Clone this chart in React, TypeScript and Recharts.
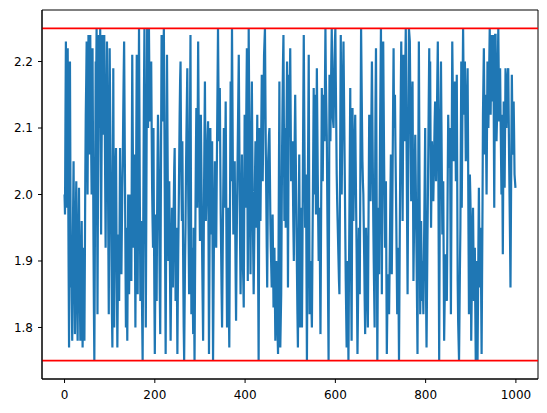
import { LineChart, Line, XAxis, YAxis, ReferenceLine, ReferenceArea } from "recharts";

// values, one per step (x = index), 100 per block
const block0 = [
  2.00, 1.97, 2.11, 2.23, 2.09, 1.98, 2.12, 2.22, 2.03, 1.89,
  1.77, 2.01, 2.20, 2.02, 1.86, 1.93, 1.84, 1.78, 1.91, 1.98,
  2.05, 1.93, 1.86, 1.79, 1.90, 1.97, 2.02, 1.91, 1.83, 1.78,
  1.89, 1.95, 2.01, 1.90, 1.84, 1.78, 1.85, 1.91, 1.96, 1.86,
  1.77, 1.85, 1.92, 1.84, 1.78, 1.90, 2.03, 2.12, 2.17, 2.23,
  2.11, 2.00, 2.13, 2.24, 2.15, 2.06, 2.17, 2.24, 2.13, 2.07,
  2.00, 2.10, 2.22, 2.08, 1.94, 1.83, 1.75, 1.89, 2.04, 2.20,
  2.16, 2.25, 2.03, 1.82, 1.99, 2.12, 2.24, 2.17, 2.10, 2.25,
  2.08, 1.94, 2.06, 2.15, 2.24, 2.17, 2.09, 2.16, 2.24, 2.13,
  2.02, 1.92, 2.04, 2.14, 2.23, 2.15, 2.05, 1.93, 1.82, 2.01,
];
const block1 = [
  2.22, 2.13, 2.06, 1.99, 1.90, 1.82, 1.77, 1.97, 2.19, 1.99,
  1.80, 1.90, 1.99, 2.04, 2.07, 1.95, 1.86, 1.77, 1.85, 1.94,
  1.89, 1.84, 1.96, 2.07, 1.98, 1.93, 1.88, 1.95, 2.01, 2.05,
  2.12, 2.18, 2.23, 2.12, 2.01, 1.90, 1.80, 1.95, 1.86, 1.78,
  1.89, 2.00, 1.93, 1.85, 1.92, 1.97, 2.00, 1.94, 1.87, 2.05,
  2.21, 2.10, 2.01, 1.92, 1.99, 2.06, 1.93, 1.80, 1.95, 2.09,
  2.21, 2.02, 1.85, 1.99, 2.13, 2.25, 2.11, 1.97, 1.84, 1.90,
  1.96, 1.88, 1.81, 1.75, 1.90, 2.04, 2.16, 2.25, 2.08, 1.94,
  1.80, 1.95, 2.11, 2.25, 2.17, 2.10, 2.18, 2.25, 2.17, 2.13,
  2.11, 2.15, 2.20, 2.10, 2.01, 1.96, 1.92, 2.10, 1.96, 1.85,
];
const block2 = [
  1.76, 1.86, 1.97, 1.90, 1.84, 1.96, 2.05, 2.12, 2.08, 2.02,
  1.93, 1.85, 1.79, 1.94, 2.10, 2.24, 2.18, 2.11, 2.16, 2.20,
  2.25, 2.14, 2.01, 1.88, 1.76, 1.91, 2.06, 2.21, 2.10, 1.99,
  1.90, 1.96, 2.02, 1.93, 1.85, 1.78, 1.85, 1.92, 1.98, 1.91,
  1.86, 1.93, 1.99, 2.04, 2.07, 1.95, 1.84, 1.90, 1.95, 1.86,
  1.76, 1.85, 1.92, 1.98, 2.05, 2.12, 2.17, 2.20, 2.09, 2.01,
  1.96, 2.08, 1.99, 1.88, 1.80, 1.75, 1.83, 1.90, 1.95, 2.03,
  2.09, 2.14, 2.19, 2.09, 2.00, 1.93, 1.85, 1.98, 2.12, 2.24,
  2.02, 1.82, 1.87, 1.92, 1.85, 1.79, 1.95, 1.84, 1.75, 1.86,
  1.97, 2.06, 2.13, 2.05, 1.98, 2.11, 2.23, 2.13, 2.05, 1.99,
];
const block3 = [
  1.93, 2.03, 2.12, 2.05, 1.98, 1.90, 1.84, 1.78, 1.88, 2.00,
  2.09, 2.17, 2.06, 1.96, 1.99, 2.02, 2.06, 2.09, 2.11, 1.93,
  1.76, 1.88, 2.00, 2.10, 2.02, 1.94, 2.01, 2.08, 1.91, 1.75,
  1.84, 1.93, 1.99, 2.05, 1.98, 1.94, 1.92, 2.01, 2.09, 2.17,
  2.25, 2.16, 2.08, 2.12, 2.16, 2.06, 1.97, 1.91, 1.85, 1.80,
  1.88, 1.96, 2.03, 2.10, 2.04, 1.98, 2.06, 2.14, 2.02, 1.90,
  1.80, 1.89, 1.98, 1.91, 1.83, 1.77, 1.90, 2.04, 2.17, 2.02,
  2.13, 2.25, 2.14, 2.03, 1.94, 1.98, 2.02, 2.05, 1.96, 1.88,
  1.81, 1.90, 1.97, 2.03, 2.09, 2.15, 2.21, 2.11, 2.00, 1.92,
  1.85, 1.92, 1.99, 2.06, 1.98, 1.90, 1.87, 1.83, 1.97, 2.12,
];
const block4 = [
  2.05, 1.98, 2.07, 2.15, 2.22, 2.04, 1.87, 2.05, 2.25, 2.14,
  2.05, 1.96, 1.88, 1.99, 2.09, 2.17, 2.07, 1.98, 1.91, 1.85,
  1.91, 1.97, 2.03, 2.08, 2.01, 1.95, 2.04, 2.12, 1.99, 1.87,
  1.75, 1.93, 2.10, 2.03, 1.96, 2.03, 2.11, 2.18, 2.10, 2.02,
  2.08, 2.15, 2.21, 2.23, 2.25, 2.15, 2.06, 1.99, 1.92, 1.86,
  1.96, 2.05, 2.07, 2.09, 2.10, 2.03, 1.96, 1.92, 1.89, 1.86,
  1.91, 1.97, 1.90, 1.83, 1.88, 1.92, 1.85, 1.78, 1.84, 1.90,
  1.86, 1.82, 1.79, 1.76, 1.90, 2.04, 2.17, 1.97, 1.77, 1.81,
  1.85, 1.96, 2.07, 2.14, 2.20, 2.24, 2.10, 1.96, 2.03, 2.10,
  1.95, 2.04, 2.12, 2.20, 2.03, 1.86, 2.02, 2.18, 2.10, 2.16,
];
const block5 = [
  2.22, 2.12, 2.02, 2.05, 2.07, 2.08, 2.01, 1.95, 1.90, 2.02,
  2.09, 2.15, 2.08, 2.01, 1.94, 1.88, 1.82, 1.77, 1.87, 1.97,
  2.06, 1.93, 1.80, 1.89, 1.98, 1.89, 1.80, 1.91, 2.03, 2.14,
  2.24, 2.13, 2.04, 1.95, 1.99, 2.03, 1.89, 1.75, 1.88, 2.00,
  2.11, 2.21, 2.01, 1.82, 1.86, 1.90, 1.86, 1.83, 1.80, 1.89,
  1.98, 2.07, 2.16, 2.00, 2.08, 2.15, 2.06, 1.97, 2.08, 2.19,
  2.11, 2.03, 1.96, 1.90, 1.94, 1.98, 1.88, 1.79, 1.91, 2.04,
  2.16, 2.09, 2.02, 2.09, 2.15, 2.11, 2.08, 2.17, 2.25, 2.17,
  2.13, 2.09, 2.00, 1.92, 1.83, 1.75, 1.97, 2.18, 2.13, 2.08,
  2.14, 2.20, 2.25, 2.18, 2.12, 2.11, 2.10, 2.15, 2.20, 2.23,
];
const block6 = [
  2.25, 2.17, 2.10, 2.03, 1.99, 1.96, 1.93, 1.90, 1.87, 1.85,
  1.98, 2.11, 2.24, 2.12, 2.00, 2.07, 2.13, 2.18, 2.23, 2.16,
  2.09, 2.02, 1.94, 1.87, 1.82, 1.77, 1.84, 1.90, 1.82, 1.75,
  1.86, 1.96, 2.06, 2.16, 1.97, 1.87, 1.78, 1.95, 2.13, 2.04,
  1.96, 2.01, 2.06, 2.09, 2.12, 2.05, 1.98, 1.92, 1.84, 1.76,
  1.82, 1.89, 1.95, 1.90, 1.85, 1.98, 2.12, 2.25, 2.18, 2.11,
  2.05, 2.02, 2.00, 1.95, 1.90, 1.84, 1.79, 1.87, 1.95, 1.91,
  1.88, 1.84, 1.80, 1.91, 2.02, 2.12, 2.07, 2.03, 1.99, 2.06,
  2.13, 2.20, 2.12, 2.04, 1.96, 1.90, 1.85, 1.80, 2.01, 2.14,
  2.22, 2.07, 1.91, 1.75, 1.87, 1.98, 1.93, 1.88, 1.98, 2.09,
];
const block7 = [
  2.17, 2.25, 2.05, 1.85, 2.04, 2.15, 2.23, 2.14, 2.05, 1.98,
  1.92, 1.97, 2.02, 1.89, 1.76, 1.82, 1.86, 1.88, 1.85, 1.82,
  1.88, 1.94, 2.00, 2.06, 1.97, 1.88, 1.96, 2.05, 2.14, 2.22,
  2.10, 2.13, 2.15, 2.08, 2.02, 1.96, 1.89, 1.82, 1.87, 1.92,
  1.84, 1.75, 1.86, 1.97, 2.07, 2.16, 2.23, 2.14, 2.05, 1.96,
  2.09, 2.21, 2.15, 2.08, 2.14, 2.20, 2.25, 2.15, 2.05, 1.95,
  1.85, 1.98, 2.12, 2.25, 2.24, 2.23, 2.15, 2.07, 1.99, 2.08,
  2.13, 2.17, 2.02, 1.87, 1.93, 1.99, 2.04, 2.09, 2.03, 1.96,
  1.90, 1.83, 1.76, 1.92, 2.08, 2.23, 2.09, 1.95, 1.82, 1.89,
  1.96, 1.90, 1.84, 1.90, 1.86, 1.82, 1.89, 1.96, 2.03, 2.10,
];
const block8 = [
  1.93, 1.84, 1.77, 1.85, 1.93, 2.00, 2.07, 2.15, 2.22, 2.10,
  2.20, 2.07, 1.95, 2.02, 2.08, 2.05, 2.02, 1.99, 2.03, 2.07,
  2.11, 2.14, 2.08, 2.02, 2.07, 2.12, 2.18, 2.23, 2.07, 1.91,
  1.75, 1.92, 2.10, 2.15, 2.20, 2.11, 2.02, 1.94, 1.98, 2.02,
  1.90, 1.78, 1.83, 1.87, 1.91, 1.88, 1.86, 1.84, 1.93, 2.03,
  2.12, 2.08, 2.04, 2.07, 2.10, 1.96, 1.82, 1.96, 2.10, 2.23,
  2.17, 2.11, 2.05, 2.09, 2.13, 2.17, 2.09, 2.02, 2.10, 2.18,
  2.02, 1.87, 1.81, 1.78, 1.75, 1.82, 1.89, 1.95, 2.08, 2.20,
  1.98, 2.08, 2.17, 2.25, 2.18, 2.12, 2.16, 2.20, 2.12, 2.05,
  2.08, 2.12, 2.15, 2.19, 2.07, 1.94, 1.82, 1.92, 2.03, 2.00,
];
const block9 = [
  1.96, 1.78, 1.84, 1.90, 1.94, 1.98, 1.91, 1.84, 1.88, 1.92,
  1.83, 1.75, 1.83, 1.90, 1.82, 1.75, 1.84, 1.93, 2.01, 1.93,
  1.86, 1.91, 1.95, 1.85, 1.76, 1.87, 1.98, 2.12, 2.17, 2.22,
  2.14, 2.06, 2.11, 2.15, 2.07, 2.00, 2.10, 2.20, 2.15, 2.10,
  2.15, 2.20, 2.25, 2.18, 2.12, 2.18, 2.24, 2.19, 2.14, 2.19,
  2.24, 2.11, 1.98, 2.11, 2.24, 2.24, 2.16, 2.08, 2.11, 2.14,
  2.20, 2.25, 2.18, 2.11, 2.15, 2.19, 2.12, 2.06, 2.00, 2.12,
  2.02, 1.91, 2.03, 2.14, 2.08, 2.01, 2.10, 2.19, 2.15, 2.10,
  2.13, 2.16, 2.18, 2.19, 2.12, 2.05, 1.99, 1.93, 1.86, 1.97,
  2.08, 2.18, 2.12, 2.06, 2.10, 2.14, 2.09, 2.03, 2.02, 2.01,
];

const xTicks = [0, 200, 400, 600, 800, 1000];
const yTicks = [1.8, 1.9, 2.0, 2.1, 2.2];
const upperLimit = 2.25;
const lowerLimit = 1.75;

const values = [
  ...block0, ...block1, ...block2, ...block3, ...block4,
  ...block5, ...block6, ...block7, ...block8, ...block9,
];
const data = values.map((y, i) => ({ x: i, y }));

const X_DOMAIN: [number, number] = [-49.95, 1048.95];
const Y_DOMAIN: [number, number] = [1.7225, 2.2775];

const tickStyle = { fontFamily: "DejaVu Sans", fontSize: 12, fill: "#000" };

export default function App() {
  return (
    <div style={{ position: "absolute", left: 0, top: 0, width: 547, height: 413, background: "#fff" }}>
      <LineChart
        width={547}
        height={413}
        data={data}
        margin={{ top: 10, right: 9, bottom: 0, left: 0 }}
      >
        <XAxis
          type="number"
          dataKey="x"
          domain={X_DOMAIN}
          ticks={xTicks}
          allowDataOverflow
          height={34}
          tickSize={4}
          tickMargin={7}
          tick={tickStyle}
          stroke="#000"
        />
        <YAxis
          type="number"
          domain={Y_DOMAIN}
          ticks={yTicks}
          allowDataOverflow
          width={42}
          tickSize={4}
          tickMargin={5}
          tick={tickStyle}
          tickFormatter={(v: number) => v.toFixed(1)}
          stroke="#000"
        />
        <Line
          dataKey="y"
          stroke="#1f77b4"
          strokeWidth={2.2}
          dot={false}
          isAnimationActive={false}
        />
        <ReferenceLine y={upperLimit} stroke="red" strokeWidth={1.8} />
        <ReferenceLine y={lowerLimit} stroke="red" strokeWidth={1.8} />
        <ReferenceArea
          x1={X_DOMAIN[0]}
          x2={X_DOMAIN[1]}
          y1={Y_DOMAIN[0]}
          y2={Y_DOMAIN[1]}
          fill="none"
          fillOpacity={0}
          stroke="#000"
          strokeWidth={1}
        />
      </LineChart>
    </div>
  );
}
